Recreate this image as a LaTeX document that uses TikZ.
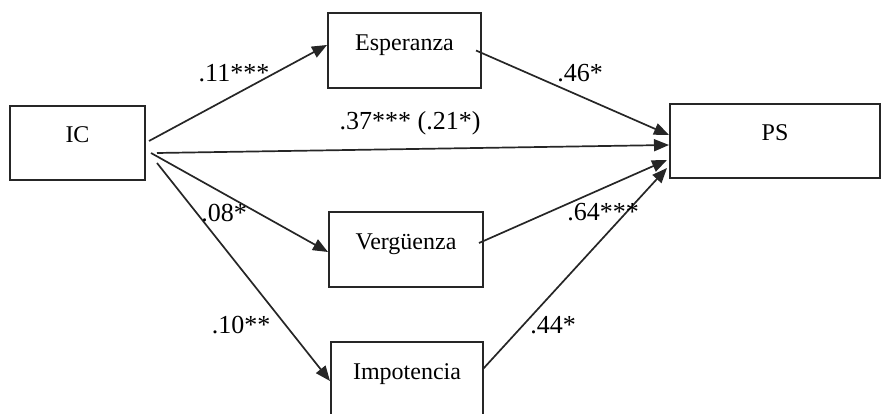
\documentclass[tikz,border=0pt]{standalone}
\usepackage{fontspec}
\setmainfont{Liberation Serif}
\usetikzlibrary{arrows.meta}
\begin{document}
\begin{tikzpicture}[x=1pt,y=1pt,
  box/.style={draw=black!85, line width=2pt, minimum height=75pt, inner sep=0pt,
    text height=12pt, text depth=12pt, font=\fontsize{24}{28}\selectfont},
  lbl/.style={inner sep=0pt, font=\fontsize{26}{30}\selectfont},
  arr/.style={draw=black!85, line width=1.7pt, -{Triangle[length=15pt,width=12pt]}}]
\useasboundingbox (0,0) rectangle (882,414);
% boxes
\node[box, minimum width=135pt, minimum height=74pt] (ic) at (77.5,271) {IC};
\node[box, minimum width=153pt] (esp) at (404.5,363.5) {Esperanza};
\node[box, minimum width=210pt, minimum height=74pt] (ps) at (775,273) {PS};
\node[box, minimum width=154pt] (verg) at (406,164.5) {Vergüenza};
\node[box, minimum width=152pt] (imp) at (407,34.5) {Impotencia};
% arrows
\draw[arr] ([xshift=3pt,yshift=2pt]ic.east) -- ([yshift=5.5pt]esp.west);
\draw[arr] ([xshift=11pt,yshift=-10pt]ic.east) -- ([yshift=-4pt]ps.west);
\draw[arr] ([xshift=5pt,yshift=-10pt]ic.east) -- ([yshift=-2.5pt]verg.west);
\draw[arr] ([xshift=11pt,yshift=-20pt]ic.east) -- ([yshift=-1.5pt]imp.west);
\draw[arr] ([xshift=-6pt]esp.east) -- ([yshift=6pt]ps.west);
\draw[arr] ([xshift=-5pt,yshift=6.5pt]verg.east) -- ([xshift=-2pt,yshift=-19pt]ps.west);
\draw[arr] ([xshift=-1pt,yshift=10.5pt]imp.east) -- ([xshift=-2pt,yshift=-27pt]ps.west);
% labels
\node[lbl] (l1) at (234,341) {.11***};
\node[lbl] (l2) at (410,291) {.37*** (.21*)};
\node[lbl] (l3) at (580,341) {.46*};
\node[lbl] (l4) at (224,201) {.08*};
\node[lbl] (l5) at (603,202) {.64***};
\node[lbl] (l6) at (241,89) {.10**};
\node[lbl] (l7) at (553,89) {.44*};
\end{tikzpicture}
\end{document}
